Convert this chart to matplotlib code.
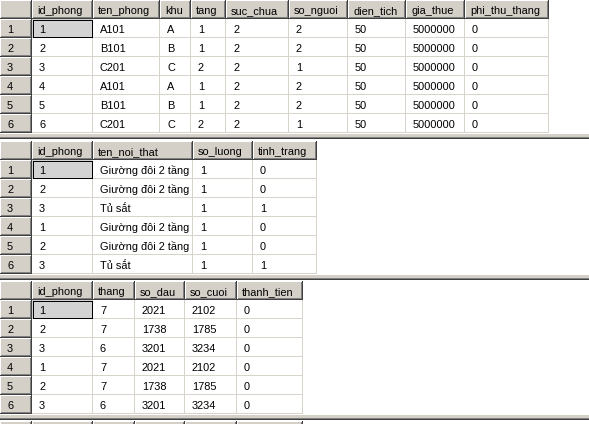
import matplotlib
matplotlib.use('Agg')
import matplotlib.pyplot as plt
from matplotlib.patches import Rectangle

# ---------------- data ----------------
phong_columns = ['id_phong', 'ten_phong', 'khu', 'tang', 'suc_chua',
                 'so_nguoi', 'dien_tich', 'gia_thue', 'phi_thu_thang']
phong_id = [1, 2, 3, 4, 5, 6]
phong_ten = ['A101', 'B101', 'C201', 'A101', 'B101', 'C201']
phong_khu = ['A', 'B', 'C', 'A', 'B', 'C']
phong_tang = [1, 1, 2, 1, 1, 2]
phong_suc_chua = [2, 2, 2, 2, 2, 2]
phong_so_nguoi = [2, 2, 1, 2, 2, 1]
phong_dien_tich = [50, 50, 50, 50, 50, 50]
phong_gia_thue = [5000000, 5000000, 5000000, 5000000, 5000000, 5000000]
phong_phi_thu_thang = [0, 0, 0, 0, 0, 0]

noi_that_columns = ['id_phong', 'ten_noi_that', 'so_luong', 'tinh_trang']
noi_that_id = [1, 2, 3, 1, 2, 3]
noi_that_ten = ['Giường đôi 2 tầng', 'Giường đôi 2 tầng', 'Tủ sắt',
                'Giường đôi 2 tầng', 'Giường đôi 2 tầng', 'Tủ sắt']
noi_that_so_luong = [1, 1, 1, 1, 1, 1]
noi_that_tinh_trang = [0, 0, 1, 0, 0, 1]

dien_columns = ['id_phong', 'thang', 'so_dau', 'so_cuoi', 'thanh_tien']
dien_id = [1, 2, 3, 1, 2, 3]
dien_thang = [7, 7, 6, 7, 7, 6]
dien_so_dau = [2021, 1738, 3201, 2021, 1738, 3201]
dien_so_cuoi = [2102, 1785, 3234, 2102, 1785, 3234]
dien_thanh_tien = [0, 0, 0, 0, 0, 0]

# ---------------- layout / style ----------------
W, H = 589, 424
ROWHDR_W = 32
ROW_H = 19
FACE = '#d4d0c8'
SHADOW = '#808080'
DARK = '#404040'
GRID = '#d8d4cc'
FONT = ['Liberation Sans', 'DejaVu Sans']
FS = 7.92

tables = [
    dict(top=0, columns=phong_columns, widths=[61, 67, 31, 35, 63, 59, 58, 59, 84],
         data=[phong_id, phong_ten, phong_khu, phong_tang, phong_suc_chua,
               phong_so_nguoi, phong_dien_tich, phong_gia_thue, phong_phi_thu_thang]),
    dict(top=141, columns=noi_that_columns, widths=[61, 100, 60, 64],
         data=[noi_that_id, noi_that_ten, noi_that_so_luong, noi_that_tinh_trang]),
    dict(top=281, columns=dien_columns, widths=[61, 42, 50, 52, 66],
         data=[dien_id, dien_thang, dien_so_dau, dien_so_cuoi, dien_thanh_tien]),
]
partial_table = dict(top=421, widths=[61, 42, 50, 52, 66])

fig = plt.figure(figsize=(W / 100, H / 100), dpi=100)
ax = fig.add_axes([0, 0, 1, 1])
ax.set_xlim(0, W)
ax.set_ylim(H, 0)
ax.axis('off')
fig.patch.set_facecolor('white')


def box(x, y, w, h, color):
    ax.add_patch(Rectangle((x, y), w, h, facecolor=color, edgecolor='none',
                           linewidth=0, antialiased=False))


def button(x0, y0, x1, y1):
    box(x0, y0, x1 - x0, y1 - y0, FACE)
    box(x0, y0, x1 - x0 - 1, 1, 'white')
    box(x0, y0, 1, y1 - y0 - 1, 'white')
    box(x0 + 1, y1 - 2, x1 - x0 - 2, 1, SHADOW)
    box(x1 - 2, y0 + 1, 1, y1 - y0 - 2, SHADOW)
    box(x0, y1 - 1, x1 - x0, 1, DARK)
    box(x1 - 1, y0, 1, y1 - y0, DARK)


def txt(x, y, s):
    ax.text(x, y, s, fontsize=FS, family=FONT, color='black',
            ha='left', va='baseline')


def splitter(y):
    box(0, y, W, 1, 'white')
    box(0, y + 1, W, 3, FACE)
    box(0, y + 4, W, 1, SHADOW)
    box(0, y + 5, W, 1, DARK)


for t in tables:
    top = t['top']
    edges = [ROWHDR_W]
    for w in t['widths']:
        edges.append(edges[-1] + w)
    nrows = len(t['data'][0])
    # header
    button(0, top, ROWHDR_W, top + ROW_H)
    for j, name in enumerate(t['columns']):
        button(edges[j], top, edges[j + 1], top + ROW_H)
        txt(edges[j] + 5, top + 14, name)
    # rows
    for i in range(nrows):
        rt = top + ROW_H * (i + 1)
        button(0, rt, ROWHDR_W, rt + ROW_H)
        txt(7, rt + 14, str(i + 1))
        box(ROWHDR_W, rt + ROW_H - 1, edges[-1] - ROWHDR_W, 1, GRID)
        for j in range(len(t['columns'])):
            box(edges[j + 1] - 1, rt, 1, ROW_H, GRID)
            if i == 0 and j == 0:
                box(edges[0], rt, edges[1] - edges[0] - 1, ROW_H - 1, '#d3d3d3')
                ax.add_patch(Rectangle((edges[0] + 0.5, rt + 0.5),
                                       edges[1] - edges[0] - 2, ROW_H - 2,
                                       facecolor='none', edgecolor='black',
                                       linewidth=0.72, linestyle=(0, (1, 1)),
                                       antialiased=False))
            txt(edges[j] + 7, rt + 14, str(t['data'][j][i]))
    splitter(top + ROW_H * (nrows + 1))

# partially visible next result grid header
pt = partial_table
edges = [ROWHDR_W]
for w in pt['widths']:
    edges.append(edges[-1] + w)
button(0, pt['top'], ROWHDR_W, pt['top'] + ROW_H)
for j in range(len(pt['widths'])):
    button(edges[j], pt['top'], edges[j + 1], pt['top'] + ROW_H)

fig.savefig('out.png', dpi=100, facecolor='white')
